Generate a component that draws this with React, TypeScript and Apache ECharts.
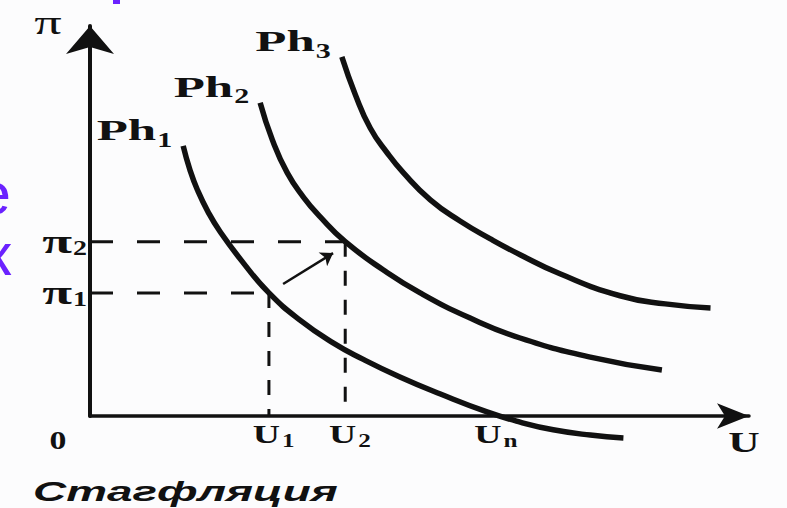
import React, { useEffect, useRef } from 'react';
import * as echarts from 'echarts';

// Phillips curves (U, π)
const ph1: number[][] = [
  [13.8, 66.5], [14.8, 60.6], [15.9, 55.7], [17.5, 50.2], [19.3, 45.3], [22.7, 37.7],
  [26.5, 30.3], [31.1, 23.6], [36.0, 18.0], [40.4, 14.0], [45.9, 9.6], [51.9, 5.4],
  [58.8, 1.0], [63.7, -1.5], [68.6, -3.4], [74.1, -4.7], [79.0, -5.4],
];
const ph2: number[][] = [
  [25.2, 77.1], [27.0, 68.0], [29.2, 59.9], [31.6, 53.9], [34.1, 49.0], [37.8, 42.9],
  [43.4, 36.0], [48.9, 30.3], [56.3, 24.1], [63.7, 19.2], [74.1, 14.5], [84.7, 11.3],
];
const ph3: number[][] = [
  [37.3, 88.4], [39.3, 79.1], [41.5, 70.9], [44.0, 64.8], [46.4, 59.9], [50.4, 53.2],
  [54.8, 48.0], [59.3, 43.6], [63.7, 39.7], [69.6, 35.0], [78.5, 29.6], [85.2, 27.6],
  [91.9, 26.6],
];
const curveNames = ['1', '2', '3'];

const U1 = 26.5;
const U2 = 37.8;
const UN = 59.3;
const PI1 = 30.3;
const PI2 = 42.9;

const xTickSubs = ['1', '2', 'n'];
const xTickValues = [U1, U2, UN];
const yTickSubs = ['1', '2'];
const yTickValues = [PI1, PI2];

const shiftArrow: number[][] = [[28.6, 32.5], [36.0, 40.1]];

const X_MAX = 97.6;
const Y_MAX = 96;

const INK = '#111111';
const BLUE = '#6b22ff';
const SERIF = '"Liberation Serif", "DejaVu Serif", serif';

function txt(text: string, x: number, y: number, font: string, align: string, sx: number, fill = INK) {
  return {
    type: 'text',
    x,
    y,
    scaleX: sx,
    silent: true,
    z: 10,
    style: {
      text,
      x: 0,
      y: 0,
      font,
      fill,
      align,
      textAlign: align,
      verticalAlign: 'middle',
      textVerticalAlign: 'middle',
    },
  };
}

export default function App() {
  const ref = useRef<HTMLDivElement>(null);
  useEffect(() => {
    if (!ref.current) return;
    const chart = echarts.init(ref.current, null, { renderer: 'svg', width: 787, height: 508 });

    const curve = (data: number[][]) => ({
      type: 'line',
      data,
      symbol: 'none',
      showSymbol: false,
      smooth: 0.5,
      clip: false,
      silent: true,
      z: 3,
      lineStyle: { color: INK, width: 5.5, cap: 'butt' },
    });
    const dashed = (data: number[][], dash: number[]) => ({
      type: 'line',
      data,
      symbol: 'none',
      showSymbol: false,
      clip: false,
      silent: true,
      z: 2,
      lineStyle: { color: INK, width: 3, type: dash },
    });

    chart.setOption({
      animation: false,
      backgroundColor: '#fcfcfd',
      grid: { left: 90, right: 38, top: 26, bottom: 92 },
      xAxis: {
        type: 'value',
        min: 0,
        max: X_MAX,
        axisLine: {
          show: true,
          symbol: ['none', 'arrow'],
          symbolSize: [19, 32],
          lineStyle: { color: INK, width: 3.5 },
        },
        axisTick: { show: false },
        axisLabel: { show: false },
        splitLine: { show: false },
      },
      yAxis: {
        type: 'value',
        min: 0,
        max: Y_MAX,
        axisLine: {
          show: true,
          symbol: ['none', 'arrow'],
          symbolSize: [36, 28],
          lineStyle: { color: INK, width: 4 },
        },
        axisTick: { show: false },
        axisLabel: { show: false },
        splitLine: { show: false },
      },
      series: [
        curve(ph1),
        curve(ph2),
        curve(ph3),
        dashed([[0, PI2], [U2, PI2]], [23, 24]),
        dashed([[0, PI1], [U1, PI1]], [23, 24]),
        dashed([[U1, PI1], [U1, 0]], [15, 14]),
        dashed([[U2, PI2], [U2, 0]], [15, 14]),
        {
          type: 'lines',
          coordinateSystem: 'cartesian2d',
          data: [{ coords: shiftArrow }],
          symbol: ['none', 'arrow'],
          symbolSize: 12,
          silent: true,
          z: 4,
          lineStyle: { color: INK, width: 2.5, opacity: 1, curveness: 0 },
        },
      ],
    });

    const px = (x: number, y: number) => chart.convertToPixel({ gridIndex: 0 }, [x, y]) as number[];
    const g: any[] = [];

    // curve names
    [ph1, ph2, ph3].forEach((c, i) => {
      const s = px(c[0][0], c[0][1]);
      g.push(txt('Ph', s[0] - 27, s[1] - 16, `bold 30px ${SERIF}`, 'right', 1.7));
      g.push(txt(curveNames[i], s[0] - 26, s[1] - 6, `bold 20px ${SERIF}`, 'left', 1.5));
    });
    // x ticks
    xTickValues.forEach((v, i) => {
      const t = px(v, 0);
      g.push(txt('U', t[0] + 11, t[1] + 18, `bold 26px ${SERIF}`, 'right', 1.45));
      g.push(txt(xTickSubs[i], t[0] + 13, t[1] + 25, `bold 18px ${SERIF}`, 'left', 1.4));
    });
    // y ticks
    yTickValues.forEach((v, i) => {
      const t = px(0, v);
      g.push(txt('π', t[0] - 18, t[1], `bold 34px ${SERIF}`, 'right', 1.6));
      g.push(txt(yTickSubs[i], t[0] - 17, t[1] + 6, `bold 20px ${SERIF}`, 'left', 1.4));
    });
    const o = px(0, 0);
    const xe = px(X_MAX, 0);
    const ye = px(0, Y_MAX);
    g.push(txt('0', o[0] - 32, o[1] + 25, `bold 25px ${SERIF}`, 'center', 1.35));
    g.push(txt('U', xe[0] - 5, xe[1] + 26, `bold 30px ${SERIF}`, 'center', 1.45));
    g.push(txt('π', ye[0] - 42, ye[1] - 3, `34px ${SERIF}`, 'center', 1.6));
    g.push(txt('Стагфляция', 33, 492, 'italic bold 27px "Liberation Sans", Arial, sans-serif', 'left', 1.7));
    // slide fragments (blue)
    g.push(txt('е', 11, 193, '60px "Liberation Sans", sans-serif', 'right', 1.05, BLUE));
    g.push(txt('к', 11, 254, '60px "Liberation Sans", sans-serif', 'right', 1.05, BLUE));
    g.push({ type: 'rect', shape: { x: 113, y: 0, width: 7, height: 4 }, style: { fill: BLUE }, silent: true });

    chart.setOption({ graphic: g });
    return () => chart.dispose();
  }, []);
  return <div ref={ref} style={{ position: 'fixed', left: 0, top: 0, width: 787, height: 508 }} />;
}
